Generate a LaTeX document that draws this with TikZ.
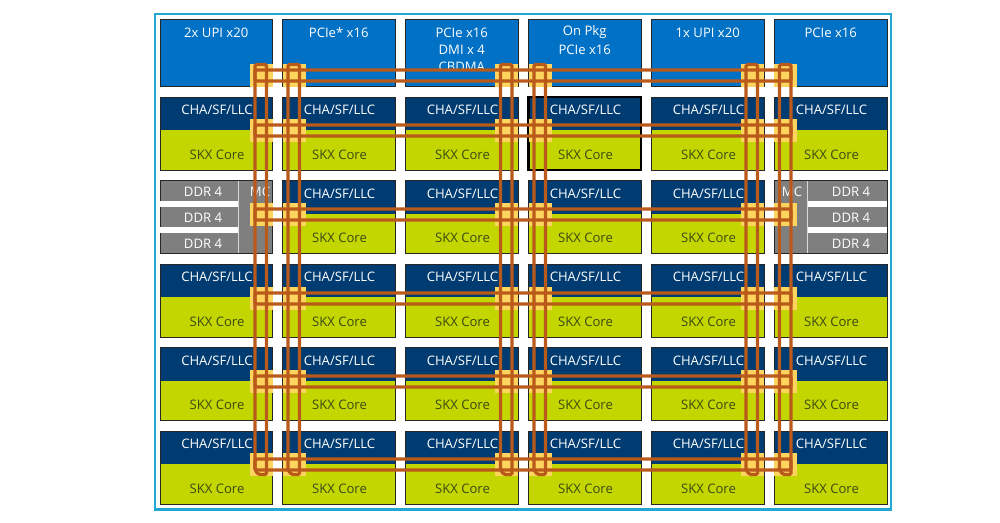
\documentclass[tikz,border=0pt]{standalone}
\usepackage{fontspec}
\setmainfont{Open Sans}
\usetikzlibrary{calc}
\definecolor{frameblue}{HTML}{22A7D3}
\definecolor{topblue}{HTML}{0071C5}
\definecolor{navy}{HTML}{003C71}
\definecolor{core}{HTML}{C4D600}
\definecolor{coretext}{HTML}{3C4A14}
\definecolor{greyblk}{HTML}{7F7F7F}
\definecolor{hop}{HTML}{FDD55E}
\definecolor{ringc}{HTML}{B9591A}
\tikzset{
  blk/.style={draw=black!85,line width=0.8pt,inner sep=0,outer sep=0,anchor=north west,minimum width=#1},
  hopbox/.style={fill=hop,inner sep=0,outer sep=0,anchor=north west,minimum width=23pt,minimum height=23pt},
  ring/.style={draw=ringc,line width=3.2pt,rounded corners=1.5pt},
  wt/.style={text=white,font=\fontsize{13.1}{15}\selectfont,inner sep=0},
  ct/.style={text=coretext,font=\fontsize{13.1}{15}\selectfont,inner sep=0},
}
\begin{document}
\begin{tikzpicture}[x=1pt,y=-1pt]
\useasboundingbox (0,0) rectangle (1000,522);
\fill[white] (0,0) rectangle (1000,522);
\node[draw=frameblue,line width=2.5pt,inner sep=0,outer sep=0,anchor=north west,minimum width=736pt,minimum height=495.5pt] (frame) at (155,14) {};
% top row
\foreach \n/\x in {a/160,b/282.5,c/405.5,d/528.5,e/651.5,f/774.5}{
  \node[blk=112.5pt,minimum height=67pt,fill=topblue] (top\n) at (\x,19) {};
}
\node[wt] (t1) at (topa.north) [yshift=-13.5pt] {2x UPI x20};
\node[wt] (t2) at (topb.north) [yshift=-13.5pt] {PCIe* x16};
\node[wt] (t3) at (topc.north) [yshift=-13.5pt] {PCIe x16};
\node[wt] (t3b) at (topc.north) [yshift=-30.5pt] {DMI x 4};
\begin{scope}
\clip (405,55) rectangle (518,70);
\node[wt] (t3c) at (topc.north) [yshift=-48pt] {CBDMA};
\end{scope}
\node[wt] (t4) at (topd.north) [yshift=-13.5pt] {On Pkg};
\node[wt] (t4b) at (topd.north) [yshift=-30.5pt] {PCIe x16};
\node[wt] (t5) at (tope.north) [yshift=-13.5pt] {1x UPI x20};
\node[wt] (t6) at (topf.north) [yshift=-13.5pt] {PCIe x16};
% tiles
\foreach \r/\y in {2/97,3/180.5,4/264,5/347.5,6/431}{
  \foreach \n/\x in {a/160,b/282.5,c/405.5,d/528.5,e/651.5,f/774.5}{
    \ifnum\r=3 \if\n a\def\skip{1}\else\if\n f\def\skip{1}\else\def\skip{0}\fi\fi\else\def\skip{0}\fi
    \if\skip0
      \fill[core] (\x,\y+33) rectangle (\x+112.5,\y+73);
      \fill[navy] (\x,\y) rectangle (\x+112.5,\y+33);
      \node[blk=112.5pt,minimum height=73pt] (tile\r\n) at (\x,\y) {};
      \node[wt] (cha\r\n) at (\x+57,\y+13.3) {CHA/SF/LLC};
      \node[ct] (skx\r\n) at (\x+57,\y+57.5) {SKX Core};
    \fi
  }
}
% memory controllers
\node[blk=112.5pt,minimum height=73pt,fill=greyblk] (mcl) at (160,180.5) {};
\node[blk=112.5pt,minimum height=73pt,fill=greyblk] (mcr) at (774.5,180.5) {};
\fill[white] (160.4,201) rectangle (238,207);
\fill[white] (160.4,227) rectangle (238,233);
\fill[white] (808,201) rectangle (886.6,207);
\fill[white] (808,227) rectangle (886.6,233);
\draw[white!85!black,line width=0.8pt] (238.5,181) -- (238.5,253);
\draw[white!85!black,line width=0.8pt] (807.5,181) -- (807.5,253);
\foreach \i/\y in {1/191.5,2/217.5,3/243.5}{
  \node[wt] (dl\i) at (203,\y) {DDR 4};
  \node[wt] (dr\i) at (851,\y) {DDR 4};
}
\node[wt] (mctl) at (260,192) {MC};
\node[wt] (mctr) at (792,192) {MC};
% highlighted tile
\node[draw=black,line width=2.6pt,inner sep=0,outer sep=0,anchor=north west,minimum width=112.5pt,minimum height=73pt] (hl) at (528.5,97) {};
% mesh stops
\foreach \r/\y in {1/64,2/119,3/203,4/287,5/370,6/453}{
  \foreach \c/\x in {1/249.5,2/282.5,3/495,4/528.5,5/740.5,6/774}{
    \node[hopbox] (hop\r\c) at (\x,\y) {};
  }
}
% horizontal rings, from the first to the last mesh stop of each row
\foreach \r in {1,...,6}{
  \draw[ring] ($(hop\r1.north west)+(5.5,6)$) -- ($(hop\r6.north west)+(17,6)$)
     -- ($(hop\r6.north west)+(17,17)$) -- ($(hop\r1.north west)+(5.5,17)$) -- cycle;
}
% vertical rings, from the top to the bottom mesh stop of each column
\foreach \c in {1,...,6}{
  \draw[ring] ($(hop1\c.north west)+(5.5,0.5)$) -- ($(hop1\c.north west)+(17,0.5)$)
     -- ($(hop6\c.north west)+(17,21.5)$) -- ($(hop6\c.north west)+(9,21.5)$)
     -- ($(hop6\c.north west)+(5.5,17)$) -- cycle;
}
\end{tikzpicture}
\end{document}
